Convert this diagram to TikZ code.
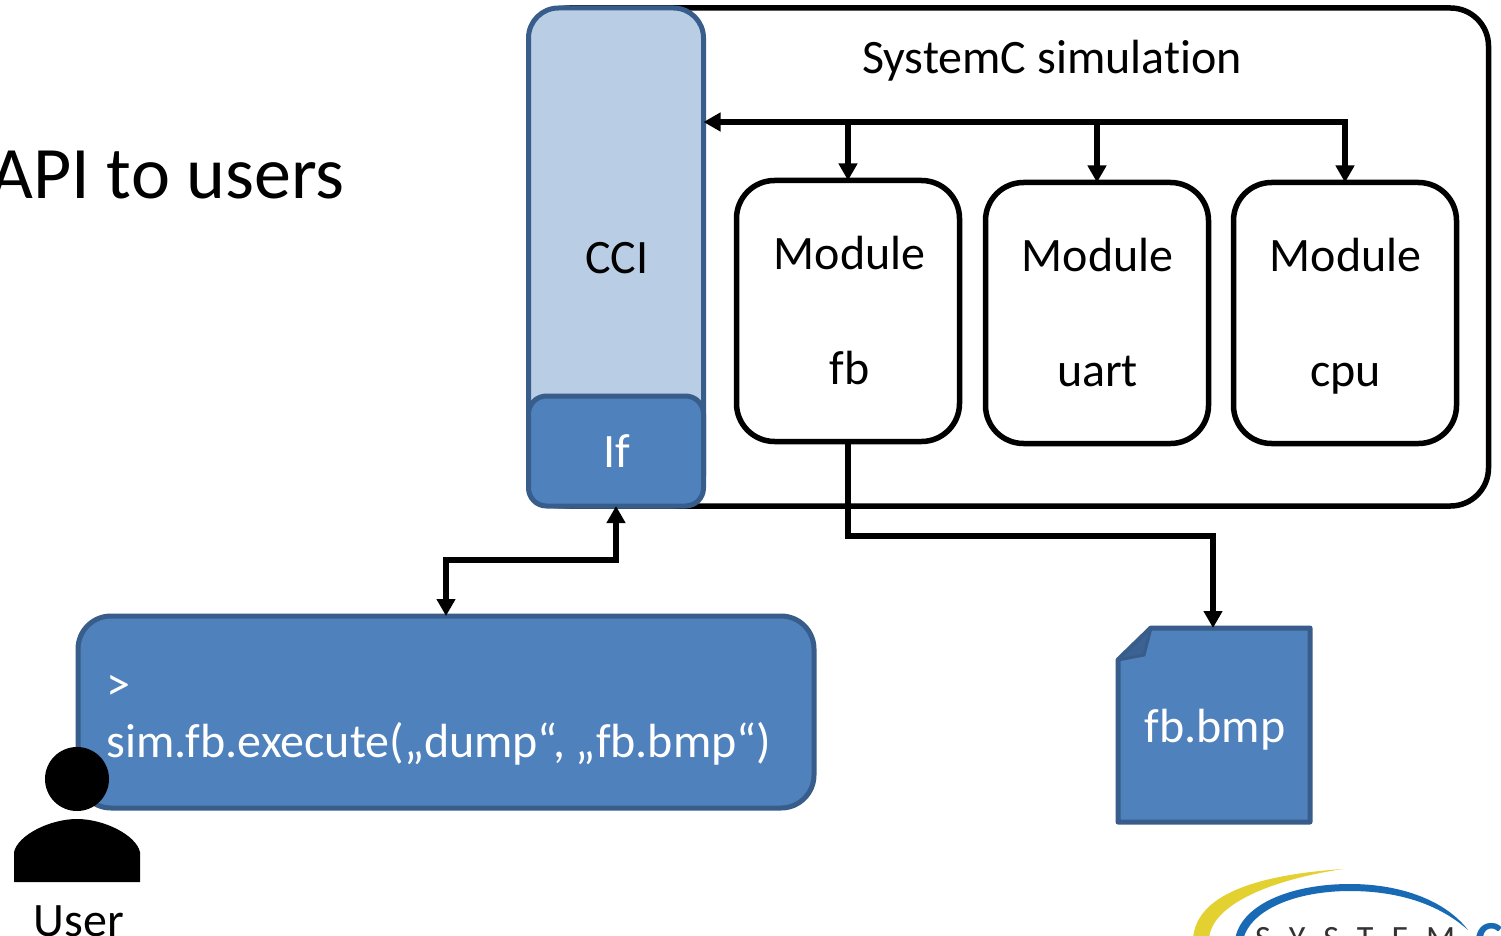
\documentclass[tikz,border=0pt]{standalone}
\usepackage{fontspec}
\setmainfont[Ligatures=NoCommon,RawFeature={-liga;-clig;-dlig}]{Carlito}
\usetikzlibrary{arrows.meta}
\definecolor{bfill}{HTML}{4F81BD}
\definecolor{bline}{HTML}{385D8A}
\definecolor{lfill}{HTML}{B9CDE5}
\definecolor{logoy}{HTML}{E3D132}
\definecolor{logob}{HTML}{186AB5}
\newcommand{\mstrut}{\vphantom{Mp}}
\tikzset{
 x=1pt,y=-1pt,
 modbox/.style={draw=black,line width=5.5pt,fill=white,rounded corners=38pt,minimum width=223pt,minimum height=261pt,inner sep=0pt,outer sep=0pt,align=center,font=\fontsize{48}{115}\selectfont},
 bluebox/.style={draw=bline,line width=5pt,fill=bfill,inner sep=0pt,outer sep=0pt,text=white},
 lab/.style={inner sep=0pt,font=\fontsize{48}{58}\selectfont},
 conn/.style={line width=5.5pt,-{Triangle[length=17pt,width=18pt]}},
 connb/.style={line width=5.5pt,{Triangle[length=17pt,width=18pt]}-{Triangle[length=17pt,width=18pt]}},
}
\begin{document}
\begin{tikzpicture}
\useasboundingbox (0,0) rectangle (1501,936);
\fill[white] (0,0) rectangle (1501,936);
% simulation frame
\node[draw=black,line width=5.5pt,rounded corners=38pt,minimum width=957pt,minimum height=498pt,inner sep=0pt,outer sep=0pt] (sim) at (1010,257) {};
\node[lab] (simlab) at (1052,61) {SystemC simulation};
% CCI
\node[bluebox,fill=lfill,text=black,rounded corners=30pt,minimum width=175pt,minimum height=498pt] (cci) at (616,257) {};
\node[lab,anchor=center] (ccilab) at (617,258) {CCI};
\node[bluebox,rounded corners=18pt,minimum width=175pt,minimum height=110pt] (if) at (616,451) {};
\node[lab,text=white] (iflab) at (617,451) {If};
% modules
\node[modbox] (m1) at (848,311) {};
\node[lab,align=center,font=\fontsize{48}{115}\selectfont] (m1lab) at (849.5,314) {\mstrut Module\\\mstrut fb};
\node[modbox] (m2) at (1097,313) {};
\node[lab,align=center,font=\fontsize{48}{115}\selectfont] (m2lab) at (1097.5,316) {\mstrut Module\\\mstrut uart};
\node[modbox] (m3) at (1345,313) {};
\node[lab,align=center,font=\fontsize{48}{115}\selectfont] (m3lab) at (1345.5,316) {\mstrut Module\\\mstrut cpu};
% API text
\node[anchor=east,inner sep=0pt,font=\fontsize{74}{86}\selectfont] (api) at (345,175) {API to users};
% console
\node[bluebox,rounded corners=33pt,minimum width=736pt,minimum height=192pt] (con) at (446,712) {};
\node[anchor=west,inner sep=0pt,text=white,font=\fontsize{48}{58}\selectfont] (prompt) at (106,688) {>};
\node[anchor=west,inner sep=0pt,text=white,font=\fontsize{48}{58}\selectfont] (cmd) at (106.5,744) {sim.fb.execute(„dump“, „fb.bmp“)};
% file
\filldraw[draw=bline,line width=5pt,fill=bfill,line join=round] (1151,628) -- (1310,628) -- (1310,822) -- (1118,822) -- (1118,660) -- cycle;
\filldraw[draw=bline,line width=3pt,fill=bline!85!bfill,line join=round] (1151,628) -- (1144,655) -- (1118,660) -- cycle;
\node[minimum width=194pt,minimum height=196pt,inner sep=0pt,outer sep=0pt] (file) at (1213,726) {};
\node[lab,text=white] (filelab) at (1215,730) {fb.bmp};
% connectors
\coordinate (busleft) at (cci.east |- 0,122);
\draw[connb] (m3.north) |- (busleft);
\draw[conn] (m1.north |- busleft) -- (m1.north);
\draw[conn] (m2.north |- busleft) -- (m2.north);
\coordinate (ifmid) at (617,560);
\draw[connb] (if.south) |- (con.north |- ifmid) -- (con.north);
\coordinate (fbmid) at (848,536);
\draw[conn] (m1.south) |- (file.north |- fbmid) -- (file.north);
% user
\node[circle,fill=black,minimum size=64pt,inner sep=0pt] (head) at (77,779) {};
\fill[black] (14,882) -- (14,852) .. controls (18,835) and (50,819) .. (77,819) .. controls (104,819) and (136,835) .. (140,852) -- (140,882) -- cycle;
\node[lab,anchor=center] (user) at (79,921) {User};
% logo
\fill[logoy] (1343,869) .. controls (1270,874) and (1195,890) .. (1193,940) -- (1209,940) .. controls (1210,905) and (1270,880) .. cycle;
\fill[logob] (1235,940) .. controls (1240,905) and (1290,884) .. (1350,884) .. controls (1400,884) and (1445,900) .. (1468,930) .. controls (1440,905) and (1400,891) .. (1350,891) .. controls (1295,891) and (1250,910) .. (1243,940) -- cycle;
\node[anchor=north west,inner sep=0pt,text=black!80,font=\fontsize{34}{40}\selectfont] (logot) at (1255,927) {S\hspace{18pt}Y\hspace{18pt}S\hspace{18pt}T\hspace{18pt}E\hspace{18pt}M};
\node[anchor=north west,inner sep=0pt,text=logob,font=\fontsize{52}{60}\selectfont\bfseries] (logoc) at (1475,923) {C};
\end{tikzpicture}
\end{document}
